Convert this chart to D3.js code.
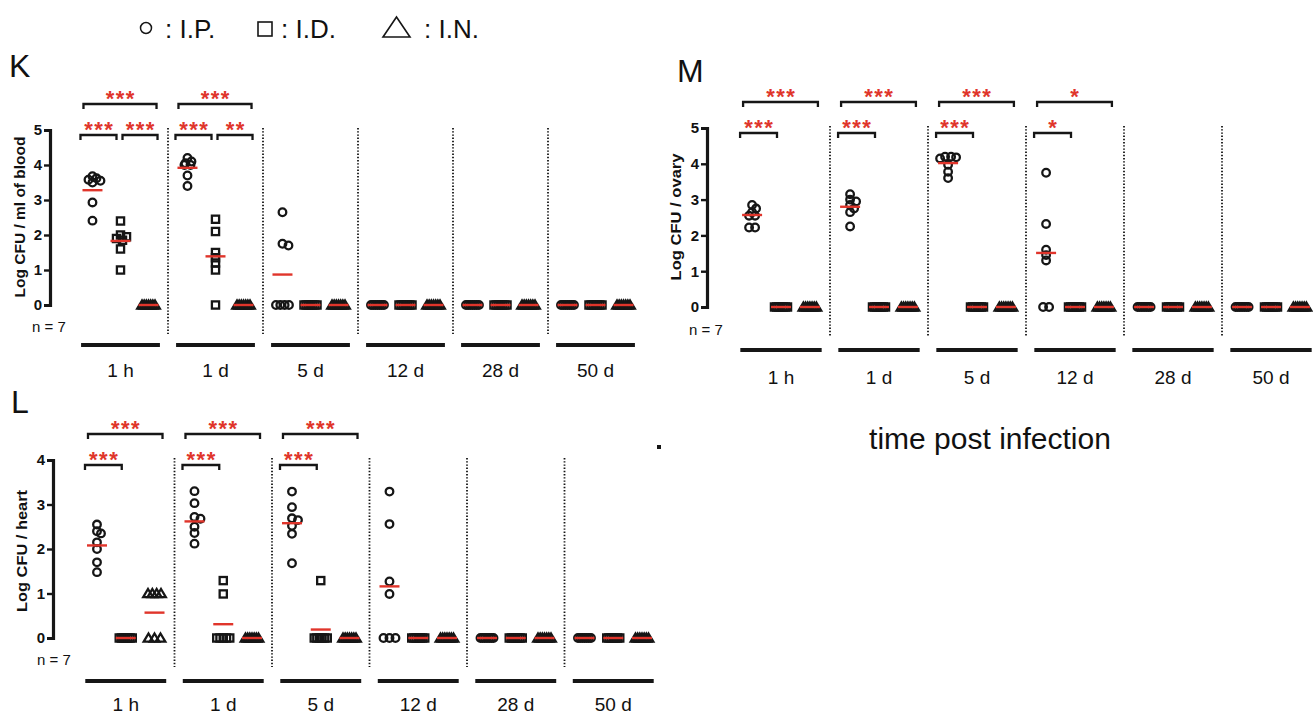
<!DOCTYPE html>
<html lang="en">
<head>
  <meta charset="utf-8">
  <title>CFU time course</title>
  <script src="https://d3js.org/d3.v7.min.js"></script>
  <style>
    body { margin: 0; background: #fff; }
    text { font-family: "Liberation Sans", Arial, sans-serif; fill: #111; }
  </style>
</head>
<body>
<script>
  // ---- data ----
  var groups = ["1 h", "1 d", "5 d", "12 d", "28 d", "50 d"];
  var routes = ["I.P.", "I.D.", "I.N."];
  var zeros = [0, 0, 0, 0, 0, 0, 0];

  // K : blood
  var bloodIP = [[3.68, 3.62, 3.58, 3.55, 3.5, 2.93, 2.41], [4.2, 4.1, 4.05, 4.0, 4.0, 3.7, 3.4], [2.65, 1.75, 1.7, 0, 0, 0, 0], zeros, zeros, zeros];
  var bloodID = [[2.4, 2.0, 1.95, 1.9, 1.85, 1.6, 1.0], [2.45, 2.1, 1.5, 1.35, 1.2, 1.0, 0], zeros, zeros, zeros, zeros];
  var bloodIN = [zeros, zeros, zeros, zeros, zeros, zeros];
  var bloodMeanIP = [3.28, 3.92, 0.87, 0, 0, 0];
  var bloodMeanID = [1.83, 1.39, 0, 0, 0, 0];
  var bloodMeanIN = [0, 0, 0, 0, 0, 0];
  var bloodSig = [
    ["1 h", 0, 1, 0, "***"], ["1 h", 1, 2, 0, "***"], ["1 h", 0, 2, 1, "***"],
    ["1 d", 0, 1, 0, "***"], ["1 d", 1, 2, 0, "**"], ["1 d", 0, 2, 1, "***"]
  ];

  // M : ovary
  var ovaryIP = [[2.85, 2.75, 2.65, 2.55, 2.55, 2.22, 2.22], [3.15, 3.0, 2.95, 2.85, 2.75, 2.65, 2.25], [4.2, 4.2, 4.18, 4.15, 3.97, 3.78, 3.6], [3.75, 2.32, 1.6, 1.45, 1.3, 0, 0], zeros, zeros];
  var ovaryID = [zeros, zeros, zeros, zeros, zeros, zeros];
  var ovaryIN = [zeros, zeros, zeros, zeros, zeros, zeros];
  var ovaryMeanIP = [2.57, 2.8, 4.02, 1.51, 0, 0];
  var ovaryMeanID = [0, 0, 0, 0, 0, 0];
  var ovaryMeanIN = [0, 0, 0, 0, 0, 0];
  var ovarySig = [
    ["1 h", 0, 1, 0, "***"], ["1 h", 0, 2, 1, "***"],
    ["1 d", 0, 1, 0, "***"], ["1 d", 0, 2, 1, "***"],
    ["5 d", 0, 1, 0, "***"], ["5 d", 0, 2, 1, "***"],
    ["12 d", 0, 1, 0, "*"], ["12 d", 0, 2, 1, "*"]
  ];

  // L : heart
  var heartIP = [[2.55, 2.4, 2.35, 2.15, 2.0, 1.7, 1.48], [3.3, 3.03, 2.72, 2.68, 2.5, 2.36, 2.12], [3.29, 2.94, 2.69, 2.65, 2.52, 2.34, 1.68], [3.29, 2.56, 1.27, 0.99, 0, 0, 0], zeros, zeros];
  var heartID = [zeros, [1.29, 0.99, 0, 0, 0, 0, 0], [1.29, 0, 0, 0, 0, 0, 0], zeros, zeros, zeros];
  var heartIN = [[1, 1, 1, 1, 0, 0, 0], zeros, zeros, zeros, zeros, zeros];
  var heartMeanIP = [2.08, 2.62, 2.58, 1.16, 0, 0];
  var heartMeanID = [0, 0.31, 0.19, 0, 0, 0];
  var heartMeanIN = [0.57, 0, 0, 0, 0, 0];
  var heartSig = [
    ["1 h", 0, 1, 0, "***"], ["1 h", 0, 2, 1, "***"],
    ["1 d", 0, 1, 0, "***"], ["1 d", 0, 2, 1, "***"],
    ["5 d", 0, 1, 0, "***"], ["5 d", 0, 2, 1, "***"]
  ];

  var RED = "#e0352b", INK = "#161616";

  var svg = d3.select("body").append("svg")
    .attr("width", 1313)
    .attr("height", 718);

  // spread points horizontally (simple beeswarm, ties side by side)
  function swarm(vals, y) {
    var order = d3.range(vals.length).sort(function (a, b) { return vals[b] - vals[a]; });
    var out = [], placed = [], done = {};
    var D = 4.5;
    order.forEach(function (i) {
      if (done[i]) return;
      var v = vals[i];
      var tie = order.filter(function (j) { return vals[j] === v; });
      if (tie.length > 1) {
        var s = Math.min(6, 13 / (tie.length - 1));
        tie.forEach(function (j, k) {
          out[j] = (k - (tie.length - 1) / 2) * s;
          done[j] = true;
          placed.push([out[j], y(v)]);
        });
        return;
      }
      var py = y(v), dx = 0;
      for (var k = 0; k < 40; k++) {
        var c = (k % 2 ? 1 : -1) * Math.ceil(k / 2) * 2;
        var ok = placed.every(function (p) { return (p[0] - c) * (p[0] - c) + (p[1] - py) * (p[1] - py) >= D * D; });
        if (ok) { dx = c; break; }
      }
      out[i] = dx; done[i] = true;
      placed.push([dx, py]);
    });
    return out;
  }

  function marker(sel, kind) {
    if (kind === 0) {
      sel.append("circle").attr("r", 3.8);
    } else if (kind === 1) {
      sel.append("rect").attr("x", -3.6).attr("y", -3.6).attr("width", 7.2).attr("height", 7.2);
    } else {
      sel.append("path").attr("d", "M0,-4.5L4.8,3.6L-4.8,3.6Z");
    }
  }

  function drawPanel(p) {
    var y = d3.scaleLinear().domain([0, p.ymax]).range([p.y0, p.yTop]);
    var x = d3.scaleBand().domain(groups).range(p.xr);
    var off = d3.scalePoint().domain(d3.range(3)).range([-x.step() * 0.295, x.step() * 0.295]);
    var g = svg.append("g");

    // panel letter
    g.append("text").attr("x", p.lx).attr("y", p.ly)
      .attr("font-size", 32).text(p.letter);

    // y axis
    var ax = g.append("g")
      .attr("transform", "translate(" + p.ax + ",0)")
      .call(d3.axisLeft(y).ticks(p.ymax).tickSizeOuter(0).tickSize(6).tickPadding(2).tickFormat(d3.format("d")));
    ax.select(".domain").attr("stroke", INK).attr("stroke-width", 3.2);
    ax.selectAll(".tick line").attr("stroke", INK).attr("stroke-width", 2.4);
    ax.selectAll(".tick text")
      .attr("font-family", "Liberation Sans, Arial, sans-serif")
      .attr("font-size", 15).attr("font-weight", "bold").attr("fill", INK);

    // axis title
    g.append("text")
      .attr("transform", "translate(" + p.tx + "," + p.ty + ") rotate(-90)")
      .attr("text-anchor", "middle")
      .attr("font-size", 14).attr("font-weight", "bold")
      .attr("textLength", p.tlen).attr("lengthAdjust", "spacingAndGlyphs")
      .text(p.title);

    g.append("text").attr("x", p.nx).attr("y", p.ny + 5)
      .attr("font-size", 15).text("n = 7");

    // dotted separators
    g.selectAll(".sep").data(groups.slice(1)).enter().append("line")
      .attr("x1", function (d) { return x(d); }).attr("x2", function (d) { return x(d); })
      .attr("y1", p.yTop - 2).attr("y2", p.y0 + 29)
      .attr("stroke", INK).attr("stroke-width", 1.8).attr("stroke-dasharray", "1.4,1.8");

    // group bars and labels
    g.selectAll(".bar").data(groups).enter().append("line")
      .attr("x1", function (d) { return x(d) + x.bandwidth() * 0.085; })
      .attr("x2", function (d) { return x(d) + x.bandwidth() * 0.915; })
      .attr("y1", p.barY).attr("y2", p.barY)
      .attr("stroke", INK).attr("stroke-width", 4.2);
    g.selectAll(".glab").data(groups).enter().append("text")
      .attr("x", function (d) { return x(d) + x.bandwidth() / 2; })
      .attr("y", p.labY)
      .attr("text-anchor", "middle").attr("font-size", 19)
      .text(function (d) { return d; });

    // points
    p.series.forEach(function (ser, r) {
      ser.forEach(function (vals, gi) {
        var cx = x(groups[gi]) + x.bandwidth() / 2 + off(r);
        var dxs = swarm(vals, y);
        var pts = g.append("g")
          .attr("fill", "none").attr("stroke", INK).attr("stroke-width", 2.3);
        vals.forEach(function (v, i) {
          var m = pts.append("g").attr("transform", "translate(" + (cx + dxs[i]) + "," + y(v) + ")");
          marker(m, r);
        });
      });
    });

    // mean lines
    p.means.forEach(function (mean, r) {
      g.selectAll(null).data(mean).enter().append("line")
        .attr("x1", function (d, gi) { return x(groups[gi]) + x.bandwidth() / 2 + off(r) - 10; })
        .attr("x2", function (d, gi) { return x(groups[gi]) + x.bandwidth() / 2 + off(r) + 10; })
        .attr("y1", function (d) { return y(d); }).attr("y2", function (d) { return y(d); })
        .attr("stroke", RED).attr("stroke-width", 2.4);
    });

    // significance brackets
    p.sig.forEach(function (s) {
      var cx = x(s[0]) + x.bandwidth() / 2;
      var x1, x2, by;
      if (s[3] === 0) {
        by = p.yTop + 5;
        if (s[1] === 0) { x1 = cx + off(0) - 12; x2 = cx + off(1) - 4; }
        else { x1 = cx + off(1) + 2; x2 = cx + off(2) + 9; }
      } else {
        by = p.yTop - 26;
        x1 = cx + off(0) - 9; x2 = cx + off(2) + 8;
      }
      g.append("path")
        .attr("d", "M" + x1 + "," + (by + 5) + "V" + by + "H" + x2 + "V" + (by + 5))
        .attr("fill", "none").attr("stroke", INK).attr("stroke-width", 2.3);
      g.append("text")
        .attr("x", (x1 + x2) / 2 + 0.8).attr("y", by + 1.5)
        .attr("text-anchor", "middle").attr("font-size", 22).attr("font-weight", "bold")
        .attr("letter-spacing", 1.5)
        .style("fill", RED)
        .text(s[4]);
    });
  }

  drawPanel({
    letter: "K", lx: 9, ly: 77,
    ax: 50, y0: 305, yTop: 130, ymax: 5, xr: [73, 643],
    title: "Log CFU / ml of blood", tx: 25, ty: 217, tlen: 161,
    nx: 32, ny: 327, barY: 345, labY: 377,
    series: [bloodIP, bloodID, bloodIN],
    means: [bloodMeanIP, bloodMeanID, bloodMeanIN],
    sig: bloodSig
  });

  drawPanel({
    letter: "M", lx: 677, ly: 82,
    ax: 707, y0: 307, yTop: 128, ymax: 5, xr: [732, 1320],
    title: "Log CFU / ovary", tx: 681, ty: 217, tlen: 127,
    nx: 689, ny: 330, barY: 350, labY: 384,
    series: [ovaryIP, ovaryID, ovaryIN],
    means: [ovaryMeanIP, ovaryMeanID, ovaryMeanIN],
    sig: ovarySig
  });

  drawPanel({
    letter: "L", lx: 11, ly: 413,
    ax: 53, y0: 638, yTop: 460, ymax: 4, xr: [77, 662],
    title: "Log CFU / heart", tx: 27, ty: 551, tlen: 122,
    nx: 37, ny: 660, barY: 681, labY: 711,
    series: [heartIP, heartID, heartIN],
    means: [heartMeanIP, heartMeanID, heartMeanIN],
    sig: heartSig
  });

  // legend
  var leg = svg.append("g");
  leg.append("circle").attr("cx", 146).attr("cy", 28).attr("r", 5.5)
    .attr("fill", "none").attr("stroke", INK).attr("stroke-width", 1.5);
  leg.append("rect").attr("x", 258).attr("y", 22).attr("width", 14).attr("height", 14)
    .attr("fill", "none").attr("stroke", INK).attr("stroke-width", 1.6);
  leg.append("path").attr("d", "M396.5,17L410,37H383Z")
    .attr("fill", "none").attr("stroke", INK).attr("stroke-width", 1.6);
  leg.selectAll("text").data([[165, ": I.P."], [281, ": I.D."], [424, ": I.N."]]).enter()
    .append("text")
    .attr("x", function (d) { return d[0]; }).attr("y", 37.5)
    .attr("font-size", 26)
    .text(function (d) { return d[1]; });

  svg.append("text")
    .attr("x", 990).attr("y", 449)
    .attr("text-anchor", "middle").attr("font-size", 30)
    .text("time post infection");

  svg.append("rect").attr("x", 657).attr("y", 445).attr("width", 4).attr("height", 4).attr("fill", INK);
</script>
</body>
</html>
